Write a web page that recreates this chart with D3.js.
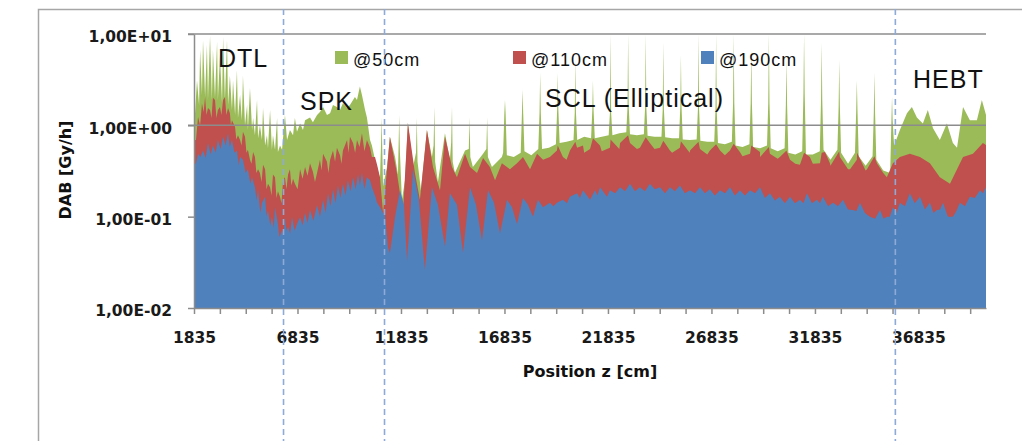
<!DOCTYPE html>
<html lang="en">
<head>
<meta charset="UTF-8">
<script src="https://d3js.org/d3.v7.min.js"></script>
<style>
    body { margin: 0; background: #ffffff; overflow: hidden; }
    svg { display: block; }
    .tick text { font-family: 'DejaVu Sans'; font-weight: bold; font-size: 15.5px; fill: #1a1a1a; }
    .axis-title { font-family: 'DejaVu Sans'; font-weight: bold; font-size: 16px; fill: #111; }
    .legend-label { font-family: 'Liberation Sans'; font-size: 18px; letter-spacing: 1px; fill: #111; }
    .section-label { font-family: 'Liberation Sans'; font-size: 25px; letter-spacing: 1px; fill: #111; }
</style>
</head>
<body>
<svg id="chart" width="1022" height="441"></svg>
<script>
// dose rate [Gy/h] versus position z [cm]
const blue190 = [
    [1835,0.37],[1930,0.385],[2030,0.49],[2270,0.53],[2510,0.64],[2750,0.60],[2990,0.69],[3240,0.75],[3480,0.82],[3670,0.69],
    [3910,0.53],[4060,0.45],[4200,0.42],[4440,0.33],[4640,0.27],[4780,0.21],[4930,0.20],[5120,0.142],[5270,0.165],[5410,0.118],
    [5600,0.099],[5750,0.127],[5890,0.083],[6090,0.071],[6230,0.099],[6380,0.078],[6570,0.099],[6810,0.083],[6960,0.099],[7200,0.11],
    [7440,0.118],[7780,0.133],[8070,0.153],[8310,0.18],[8550,0.20],[8790,0.22],[9030,0.23],[9270,0.25],[9520,0.27],[9760,0.29],
    [9950,0.30],[10190,0.27],[10340,0.25],[10430,0.21],[10580,0.17],[10680,0.142],[10820,0.127],[10970,0.11],[11060,0.105],[11210,0.046],
    [11300,0.040],[11550,0.10],[11790,0.195],[11980,0.135],[12130,0.033],[12420,0.33],[12700,0.153],[12990,0.026],[13330,0.21],[13620,0.135],
    [13960,0.047],[14200,0.18],[14540,0.135],[14830,0.040],[15170,0.21],[15460,0.135],[15750,0.055],[16040,0.195],[16330,0.142],[16620,0.066],
    [16960,0.153],[17200,0.127],[17440,0.083],[17730,0.16],[17970,0.135],[18210,0.10],[18450,0.153],[18700,0.127],[19030,0.142],[19370,0.142],
    [19660,0.153],[20000,0.165],[20340,0.18],[20630,0.195],[20970,0.153],[21210,0.195],[21450,0.21],[21790,0.165],[21930,0.195],[22420,0.21],
    [22900,0.23],[23380,0.21],[23860,0.23],[24350,0.21],[24830,0.21],[25310,0.22],[25800,0.195],[26280,0.21],[26760,0.20],[27250,0.195],
    [27730,0.21],[28210,0.195],[28700,0.195],[29180,0.21],[29660,0.18],[30140,0.165],[30630,0.165],[31110,0.153],[31450,0.18],[31930,0.153],
    [32220,0.165],[32710,0.142],[33190,0.153],[33670,0.118],[34010,0.142],[34490,0.10],[34980,0.118],[35310,0.10],[35600,0.127],[35940,0.142],
    [36420,0.18],[36910,0.165],[37390,0.142],[37730,0.118],[38020,0.142],[38500,0.10],[38840,0.142],[39320,0.165],[39810,0.195],[40100,0.21]
];
// narrow dips between the points above (jagged top edge)
const blue190Dips = [
    [2150,0.45],[2400,0.44],[2640,0.48],[2880,0.50],[3120,0.55],[3360,0.60],[3560,0.58],[3790,0.50],[4000,0.36],[4330,0.30],
    [4560,0.23],[4860,0.15],[5040,0.11],[5340,0.10],[5520,0.08],[5690,0.075],[5960,0.06],[6160,0.062],[6300,0.07],[6480,0.065],
    [6700,0.07],[7080,0.08],[7320,0.085],[7600,0.09],[7920,0.10],[8190,0.11],[8430,0.13],[8670,0.14],[8910,0.16],[9150,0.17],
    [9400,0.19],[9640,0.20],[9850,0.22],[10070,0.20],
    [19200,0.13],[19850,0.14],[20480,0.16],[21330,0.17],[22180,0.18],[22660,0.19],[23140,0.19],[23620,0.19],[24100,0.20],[24590,0.18],
    [25070,0.19],[25550,0.18],[26040,0.18],[26520,0.18],[27000,0.17],[27490,0.18],[27970,0.17],[28450,0.17],[28940,0.18],[29420,0.16],
    [29900,0.15],[30380,0.14],[30870,0.14],[31280,0.14],[31690,0.14],[32080,0.14],[32470,0.13],[32950,0.13],[33430,0.12],[33840,0.115],
    [34250,0.11],[34740,0.095],[35150,0.095],[35450,0.10],[35770,0.11],[36180,0.13],[36660,0.14],[37150,0.12],[37560,0.11],[37880,0.12],
    [38260,0.10],[38670,0.115],[39080,0.13],[39560,0.16],[39950,0.18]
];

const red110 = [
    [1835,0.69],[1930,0.69],[2030,1.23],[2220,1.75],[2370,2.04],[2510,1.55],[2610,1.47],[2750,2.0],[2850,1.89],[2990,1.47],
    [3090,1.59],[3240,1.89],[3330,2.04],[3480,1.55],[3570,1.36],[3670,1.14],[3820,0.96],[3960,0.78],[4060,0.69],[4200,0.85],
    [4300,0.75],[4440,0.54],[4540,0.42],[4690,0.51],[4780,0.45],[4930,0.33],[5020,0.30],[5170,0.37],[5270,0.33],[5410,0.23],
    [5510,0.21],[5650,0.29],[5750,0.27],[5890,0.19],[5990,0.165],[6140,0.25],[6230,0.27],[6380,0.29],[6470,0.33],[6620,0.26],
    [6710,0.23],[6960,0.33],[7200,0.35],[7440,0.385],[7580,0.31],[7780,0.30],[7920,0.42],[8070,0.49],[8260,0.40],[8410,0.42],
    [8550,0.53],[8740,0.57],[8890,0.47],[9030,0.53],[9230,0.69],[9370,0.75],[9520,0.64],[9710,0.69],[9950,0.82],[10190,0.69],
    [10340,0.57],[10430,0.45],[10580,0.45],[10680,0.37],[10820,0.27],[10970,0.11],[11160,0.33],[11300,0.75],[11640,0.30],[11930,0.11],
    [12170,1.06],[12510,0.30],[12750,0.153],[13090,0.89],[13380,0.35],[13720,0.195],[13960,0.75],[14300,0.35],[14540,0.27],[14930,0.49],
    [15170,0.35],[15510,0.30],[15800,0.44],[16130,0.35],[16380,0.25],[16710,0.385],[17100,0.33],[17440,0.385],[17730,0.45],[18070,0.33],
    [18410,0.49],[18700,0.42],[19030,0.45],[19370,0.53],[19660,0.45],[20000,0.53],[20340,0.57],[20630,0.60],[20970,0.55],[21450,0.60],
    [21930,0.57],[22420,0.64],[22900,0.64],[23380,0.57],[23860,0.64],[24350,0.57],[24830,0.53],[25310,0.57],[25800,0.53],[26280,0.55],
    [26760,0.53],[27250,0.53],[27730,0.53],[28210,0.51],[28700,0.49],[29180,0.51],[29660,0.49],[30140,0.45],[30630,0.42],[31110,0.37],
    [31590,0.45],[32080,0.385],[32320,0.51],[32560,0.385],[33040,0.45],[33530,0.33],[33860,0.42],[34350,0.33],[34830,0.385],[35310,0.27],
    [35600,0.385],[35940,0.45],[36420,0.49],[36910,0.45],[37390,0.385],[37870,0.27],[38360,0.23],[38700,0.33],[38990,0.45],[39470,0.49],
    [39950,0.64],[40100,0.61]
];
// dips and small bumps at the cavity positions
const red110Detail = [
    [2130,1.0],[2300,1.4],[2440,1.3],[2680,1.2],[2920,1.2],[3160,1.3],[3400,1.3],[3620,1.0],[3880,0.70],[4130,0.60],
    [4370,0.50],[4610,0.38],[4850,0.30],[5100,0.24],[5340,0.20],[5580,0.17],[5820,0.16],[6060,0.14],[6300,0.20],[6540,0.22],
    [6840,0.20],[7080,0.26],[7320,0.28],[7680,0.24],[8000,0.32],[8330,0.30],[8650,0.40],[8960,0.38],[9300,0.50],[9620,0.50],
    [9830,0.58],[10070,0.52],
    [19410,0.60],[19835,0.42],[20260,0.66],[20685,0.50],[21110,0.72],[21535,0.52],[21960,0.70],[22385,0.55],[22810,0.78],[23235,0.55],
    [23660,0.74],[24085,0.55],[24510,0.68],[24935,0.50],[25360,0.67],[25785,0.50],[26210,0.66],[26635,0.48],[27060,0.62],[27485,0.47],
    [27910,0.63],[28335,0.46],[28760,0.60],[29185,0.45],[29610,0.58],[30035,0.43],[30460,0.53],[30885,0.38],[31310,0.50],[31735,0.38],
    [32160,0.50],[32585,0.36],[33010,0.52],[33435,0.33],[33870,0.50],[34285,0.32],[34710,0.46],[35135,0.30]
];

const green50 = [
    // DTL
    [1835,1.0],[1880,1.30],[1980,3.1],[2080,1.67],[2130,6.7],[2220,2.15],[2270,8.6],[2370,2.04],[2460,7.6],[2510,1.89],
    [2610,9.5],[2700,1.89],[2750,6.7],[2850,2.0],[2950,8.2],[2990,1.89],[3090,5.9],[3190,1.75],[3240,9.3],[3330,1.89],
    [3430,8.6],[3480,1.67],[3570,3.5],[3670,1.47],[3720,3.1],[3820,1.30],[3910,4.0],[3960,1.20],[4060,2.15],[4150,1.14],
    [4200,3.5],[4300,1.0],[4400,1.67],[4440,0.89],[4540,2.56],[4640,0.89],[4690,1.20],[4780,0.78],[4880,1.89],[4930,0.72],
    [5020,1.0],[5120,0.69],[5170,1.55],[5270,0.60],[5360,0.78],[5410,0.56],[5510,1.47],[5600,0.54],[5650,0.78],[5750,0.54],
    [5850,1.20],[5890,0.51],[5990,0.60],[6090,0.54],
    // SPK
    [6230,1.30],[6330,0.69],[6470,0.89],[6620,0.78],[6710,1.20],[6810,0.85],[6960,1.05],[7100,0.89],[7200,1.14],[7440,1.22],
    [7580,1.08],[7780,1.30],[7920,1.40],[8070,1.59],[8260,1.30],[8410,1.36],[8550,1.67],[8740,1.59],[8890,1.47],[9030,1.75],
    [9230,1.55],[9370,1.67],[9520,1.89],[9610,2.04],[9710,1.89],[9850,2.66],[9950,2.15],[10000,1.89],[10100,1.47],[10190,1.22],
    [10340,0.69],[10430,0.60],[10580,0.42],[10680,0.35],[10820,0.26],
    // SCL
    [10870,0.6],[10900,1.22],[10935,0.5],[10970,0.215],[11160,0.35],[11300,0.75],[11550,0.45],[11690,0.29],[11720,0.6],[11750,1.30],
    [11785,0.5],[11880,0.153],[12030,0.25],[12170,1.06],[12420,0.35],[12560,0.5],[12600,1.2],[12635,0.4],[12800,0.195],[13090,0.89],
    [13330,0.45],[13410,0.6],[13450,1.59],[13485,0.4],[13620,0.24],[13960,0.82],[14200,0.42],[14260,0.65],[14300,1.59],[14335,0.4],
    [14440,0.30],[14930,0.53],[15110,0.55],[15150,1.22],[15185,0.45],[15310,0.35],[15800,0.49],[15960,0.55],[16000,1.22],[16035,0.45],
    [16230,0.35],[16710,0.45],
    [16770,0.50],[16830,1.36],[16860,1.89],[16890,1.36],[16950,0.47],[17285,0.45],
    [17620,0.50],[17680,1.36],[17710,2.45],[17740,1.36],[17800,0.52],[18135,0.47],
    [18470,0.55],[18530,1.40],[18560,3.73],[18590,1.40],[18650,0.55],[18985,0.57],
    [19320,0.62],[19380,1.47],[19410,3.73],[19440,1.47],[19500,0.64],[19835,0.66],
    [20170,0.69],[20230,1.36],[20260,5.2],[20290,1.36],[20350,0.69],[20685,0.75],
    [21020,0.72],[21080,1.47],[21110,3.1],[21140,1.47],[21200,0.72],[21535,0.75],
    [21870,0.78],[21930,1.36],[21960,10],[21990,1.36],[22050,0.78],[22385,0.82],
    [22720,0.84],[22780,1.59],[22810,10],[22840,1.59],[22900,0.80],[23235,0.78],
    [23570,0.80],[23630,1.59],[23660,10],[23690,1.59],[23750,0.77],[24085,0.75],
    [24420,0.75],[24480,1.47],[24510,8.0],[24540,1.47],[24600,0.74],[24935,0.72],
    [25270,0.72],[25330,1.59],[25360,5.9],[25390,1.59],[25450,0.70],[25785,0.69],
    [26120,0.70],[26180,1.47],[26210,10],[26240,1.47],[26300,0.68],[26635,0.66],
    [26970,0.66],[27030,1.47],[27060,10],[27090,1.47],[27150,0.64],[27485,0.62],
    [27820,0.66],[27880,1.75],[27910,10],[27940,1.75],[28000,0.60],[28335,0.58],
    [28670,0.62],[28730,1.75],[28760,6.7],[28790,1.75],[28850,0.58],[29185,0.56],
    [29520,0.60],[29580,1.75],[29610,10],[29640,1.75],[29700,0.56],[30035,0.52],
    [30370,0.56],[30430,1.67],[30460,5.2],[30490,1.67],[30550,0.50],[30885,0.48],
    [31220,0.52],[31280,2.25],[31310,10],[31340,2.25],[31400,0.48],[31735,0.48],
    [32070,0.52],[32130,1.89],[32160,8.0],[32190,1.89],[32250,0.54],[32585,0.42],
    [32920,0.54],[32980,1.59],[33010,5.2],[33040,1.59],[33100,0.50],[33435,0.38],
    [33770,0.50],[33830,1.47],[33860,3.1],[33890,1.47],[33950,0.46],[34285,0.36],
    [34620,0.46],[34680,1.40],[34710,3.73],[34740,1.40],[34800,0.42],[35135,0.32],
    [35470,0.30],[35530,1.14],[35560,2.04],[35590,1.14],[35660,0.60],
    // HEBT
    [35940,0.89],[36280,1.36],[36520,1.59],[36760,1.22],[37050,1.05],[37290,1.47],[37540,0.93],[37870,0.69],[38210,1.05],[38500,0.64],
    [38700,0.57],[38990,1.59],[39320,1.14],[39660,1.14],[39900,1.89],[40100,1.30]
];

const seriesNames = ["@50cm", "@110cm", "@190cm"];
const seriesColors = ["#9bbb59", "#c0504d", "#4f81bd"];
const sectionNames = ["DTL", "SPK", "SCL (Elliptical)", "HEBT"];
const sectionBounds = [6160, 11040, 35720];

const yTicks = [10, 1, 0.1, 0.01];
const yTickLabels = ["1,00E+01", "1,00E+00", "1,00E-01", "1,00E-02"];
const xTickLabels = [1835, 6835, 11835, 16835, 21835, 26835, 31835, 36835];

const byZ = (a, b) => a[0] - b[0];
const blue = blue190.concat(blue190Dips).sort(byZ);
const red = red110.concat(red110Detail).sort(byZ);

const svg = d3.select("#chart");
const x = d3.scaleLinear().domain([1835, 40100]).range([194, 986]);
const y = d3.scaleLog().domain([0.01, 10]).range([308, 34]);

// chart area border
svg.append("path")
    .attr("d", "M38.5,441V9.5H1022")
    .attr("fill", "none")
    .attr("stroke", "#a6a6a6")
    .attr("stroke-width", 1.5);

svg.append("clipPath").attr("id", "plot")
    .append("rect").attr("x", 194).attr("y", 34).attr("width", 792).attr("height", 274);

const area = d3.area()
    .x(d => x(d[0]))
    .y0(y(0.01))
    .y1(d => y(d[1]));

const plot = svg.append("g").attr("clip-path", "url(#plot)");
[green50, red, blue].forEach((data, i) => {
    plot.append("path")
        .attr("d", area(data))
        .attr("fill", seriesColors[i]);
});

// gridlines above 1 stay visible over the areas
svg.append("g").selectAll("line")
    .data(yTicks.filter(v => v >= 1))
    .join("line")
    .attr("x1", 188).attr("x2", 986)
    .attr("y1", d => y(d)).attr("y2", d => y(d))
    .attr("stroke", "#8c8c8c")
    .attr("stroke-width", 1.5);

const xAxis = svg.append("g")
    .attr("transform", `translate(0,${y(0.01)})`)
    .call(d3.axisBottom(x)
        .tickValues(d3.range(1835, 40000, 1250))
        .tickSize(6).tickSizeOuter(0).tickPadding(18)
        .tickFormat(v => xTickLabels.includes(v) ? v : ""));

const yAxis = svg.append("g")
    .attr("transform", "translate(194,0)")
    .call(d3.axisLeft(y)
        .tickValues(yTicks)
        .tickSize(6).tickSizeOuter(0).tickPadding(16)
        .tickFormat((d, i) => yTickLabels[i]));
yAxis.selectAll("text").attr("dy", "0.5em");

[xAxis, yAxis].forEach(g => {
    g.select(".domain").attr("stroke", "#8c8c8c").attr("stroke-width", 1.5);
    g.selectAll(".tick line").attr("stroke", "#8c8c8c").attr("stroke-width", 1.5);
});

svg.append("text")
    .attr("class", "axis-title")
    .attr("x", 590).attr("y", 377)
    .attr("text-anchor", "middle")
    .text("Position z [cm]");

svg.append("text")
    .attr("class", "axis-title")
    .attr("transform", "translate(71,170) rotate(-90)")
    .attr("text-anchor", "middle")
    .text("DAB [Gy/h]");

// legend
const legendX = [335, 513, 701];
const legend = svg.append("g").selectAll("g")
    .data(seriesNames)
    .join("g")
    .attr("transform", (d, i) => `translate(${legendX[i]},51)`);
legend.append("rect")
    .attr("width", 13).attr("height", 13)
    .attr("fill", (d, i) => seriesColors[i]);
legend.append("text")
    .attr("class", "legend-label")
    .attr("x", 18).attr("y", 15)
    .text(d => d);

// section names
const sectionPos = [[218, 67], [300, 110], [545, 107], [913, 88]];
svg.append("g").selectAll("text")
    .data(sectionNames)
    .join("text")
    .attr("class", "section-label")
    .attr("x", (d, i) => sectionPos[i][0])
    .attr("y", (d, i) => sectionPos[i][1])
    .text(d => d);

// section boundaries
svg.append("g").selectAll("line")
    .data(sectionBounds)
    .join("line")
    .attr("x1", d => x(d)).attr("x2", d => x(d))
    .attr("y1", 9).attr("y2", 441)
    .attr("stroke", "#8eaad6")
    .attr("stroke-width", 1.6)
    .attr("stroke-dasharray", "6,4");
</script>
</body>
</html>
